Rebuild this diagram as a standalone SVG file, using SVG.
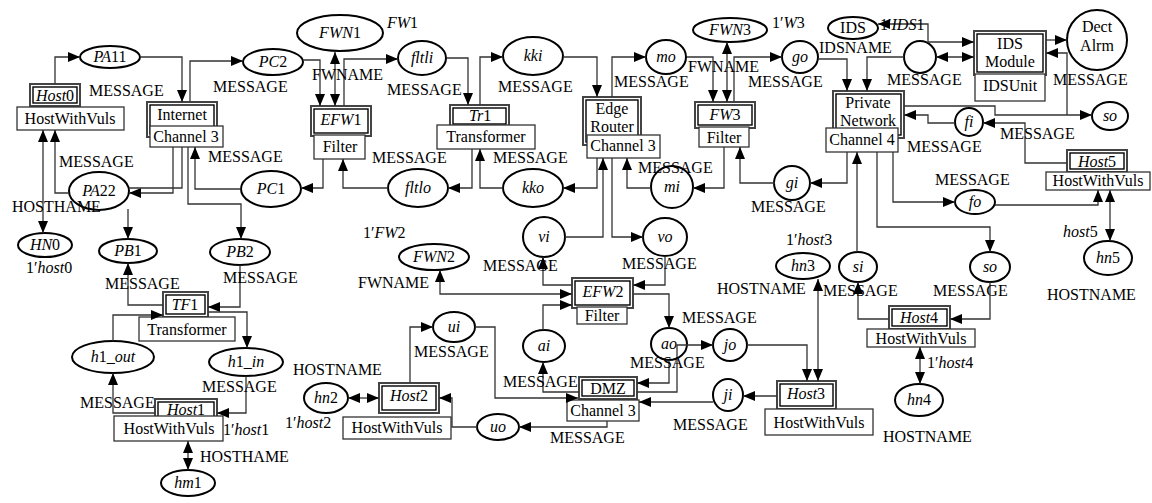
<svg xmlns="http://www.w3.org/2000/svg" width="1152" height="503" viewBox="0 0 1152 503">
<defs>
<marker id="a" viewBox="0 0 12 10" refX="12" refY="5" markerWidth="12" markerHeight="10" markerUnits="userSpaceOnUse" orient="auto-start-reverse"><path d="M0,0 L12,5 L0,10 z" fill="#000"/></marker>
<style>
text{font-family:"Liberation Serif","Times New Roman",serif;font-size:16px;fill:#000}
.m{text-anchor:middle}
.i{font-style:italic}
.p{fill:#fff;stroke:#000;stroke-width:2}
.o{fill:#fff;stroke:#444;stroke-width:2}
.n{fill:#fff;stroke:#000;stroke-width:1.4}
.s{fill:#fff;stroke:#333;stroke-width:1.3}
.c path{fill:none;stroke:#333;stroke-width:1.3}
.e{marker-end:url(#a)}
.b{marker-start:url(#a);marker-end:url(#a)}
</style>
</defs>
<rect width="1152" height="503" fill="#fff"/>

<!-- places -->
<g id="PA11"><ellipse class="p" cx="110" cy="57" rx="30" ry="11"/><text class="m" x="110" y="62"><tspan class="i">PA</tspan>11</text></g>
<g id="PC2"><ellipse class="p" cx="273" cy="62" rx="30" ry="13"/><text class="m" x="273" y="67"><tspan class="i">PC</tspan>2</text></g>
<g id="PA22"><ellipse class="p" cx="99" cy="191" rx="30" ry="19"/><text class="m" x="99" y="196"><tspan class="i">PA</tspan>22</text></g>
<g id="PC1"><ellipse class="p" cx="271" cy="189" rx="30" ry="18"/><text class="m" x="271" y="194"><tspan class="i">PC</tspan>1</text></g>
<g id="HN0"><ellipse class="p" cx="45" cy="245" rx="27" ry="12"/><text class="m" x="45" y="250"><tspan class="i">HN</tspan>0</text></g>
<g id="PB1"><ellipse class="p" cx="128" cy="251" rx="29" ry="12"/><text class="m" x="128" y="256"><tspan class="i">PB</tspan>1</text></g>
<g id="PB2"><ellipse class="p" cx="240" cy="252" rx="30" ry="13"/><text class="m" x="240" y="257"><tspan class="i">PB</tspan>2</text></g>
<g id="h1_out"><ellipse class="p" cx="113" cy="357" rx="41" ry="16"/><text class="m" x="113" y="362"><tspan class="i">h</tspan>1<tspan class="i">_out</tspan></text></g>
<g id="h1_in"><ellipse class="p" cx="246" cy="362" rx="37" ry="14"/><text class="m" x="246" y="367"><tspan class="i">h</tspan>1<tspan class="i">_in</tspan></text></g>
<g id="hm1"><ellipse class="p" cx="188" cy="483" rx="27" ry="13"/><text class="m" x="188" y="488"><tspan class="i">hm</tspan>1</text></g>
<g id="FWN1"><ellipse class="p" cx="340" cy="33" rx="43" ry="18"/><text class="m" x="340" y="38"><tspan class="i">FWN</tspan>1</text></g>
<g id="fltli"><ellipse class="p" cx="422" cy="58" rx="24" ry="17"/><text class="m i" x="422" y="63">fltli</text></g>
<g id="fltlo"><ellipse class="p" cx="418" cy="188" rx="30" ry="19"/><text class="m i" x="418" y="193">fltlo</text></g>
<g id="kki"><ellipse class="p" cx="533" cy="56" rx="30" ry="19"/><text class="m i" x="533" y="61">kki</text></g>
<g id="kko"><ellipse class="p" cx="533" cy="188" rx="30" ry="19"/><text class="m i" x="533" y="193">kko</text></g>
<g id="mo"><ellipse class="p" cx="666" cy="57" rx="20" ry="17"/><text class="m i" x="666" y="62">mo</text></g>
<g id="mi"><ellipse class="p" cx="672" cy="187" rx="21" ry="21"/><text class="m i" x="672" y="192">mi</text></g>
<g id="FWN3"><ellipse class="p" cx="730" cy="30" rx="37" ry="12"/><text class="m" x="730" y="35"><tspan class="i">FWN</tspan>3</text></g>
<g id="go"><ellipse class="p" cx="800" cy="57" rx="18" ry="16"/><text class="m i" x="800" y="62">go</text></g>
<g id="gi"><ellipse class="p" cx="792" cy="183" rx="18" ry="17"/><text class="m i" x="792" y="188">gi</text></g>
<g id="IDS"><ellipse class="p" cx="853" cy="28" rx="25" ry="11"/><text class="m" x="853" y="33">IDS</text></g>
<g id="idsmsg"><circle class="p" cx="920" cy="57" r="16"/></g>
<g id="DectAlrm"><circle class="p" cx="1097" cy="40" r="30"/><text class="m" x="1097" y="32">Dect</text><text class="m" x="1097" y="51">Alrm</text></g>
<g id="so1"><ellipse class="p" cx="1110" cy="116" rx="18" ry="14"/><text class="m i" x="1110" y="121">so</text></g>
<g id="fi"><circle class="p" cx="969" cy="122" r="14"/><text class="m i" x="969" y="127">fi</text></g>
<g id="fo"><ellipse class="p" cx="975" cy="202" rx="20" ry="12"/><text class="m i" x="975" y="207">fo</text></g>
<g id="hn5"><ellipse class="p" cx="1108" cy="258" rx="24" ry="17"/><text class="m" x="1108" y="263"><tspan class="i">hn</tspan>5</text></g>
<g id="vi"><ellipse class="p" cx="544" cy="237" rx="21" ry="20"/><text class="m i" x="544" y="242">vi</text></g>
<g id="vo"><ellipse class="p" cx="665" cy="237" rx="22" ry="19"/><text class="m i" x="665" y="242">vo</text></g>
<g id="FWN2"><ellipse class="p" cx="434" cy="257" rx="35" ry="13"/><text class="m" x="434" y="262"><tspan class="i">FWN</tspan>2</text></g>
<g id="ai"><ellipse class="p" cx="544" cy="346" rx="21" ry="16"/><text class="m i" x="544" y="351">ai</text></g>
<g id="ui"><ellipse class="p" cx="454" cy="327" rx="21" ry="15"/><text class="m i" x="454" y="332">ui</text></g>
<g id="hn2"><ellipse class="p" cx="326" cy="398" rx="22" ry="15"/><text class="m" x="326" y="403"><tspan class="i">hn</tspan>2</text></g>
<g id="uo"><ellipse class="p" cx="498" cy="427" rx="21" ry="13"/><text class="m i" x="498" y="432">uo</text></g>
<g id="ao"><ellipse class="p" cx="669" cy="344" rx="18" ry="16"/><text class="m i" x="669" y="349">ao</text></g>
<g id="jo"><ellipse class="p" cx="730" cy="345" rx="17" ry="16"/><text class="m i" x="730" y="350">jo</text></g>
<g id="ji"><ellipse class="p" cx="728" cy="395" rx="15" ry="16"/><text class="m i" x="728" y="400">ji</text></g>
<g id="hn3"><ellipse class="p" cx="803" cy="266" rx="27" ry="13"/><text class="m" x="803" y="271"><tspan class="i">hn</tspan>3</text></g>
<g id="si"><ellipse class="p" cx="858" cy="267" rx="19" ry="15"/><text class="m i" x="858" y="272">si</text></g>
<g id="so2"><ellipse class="p" cx="990" cy="267" rx="20" ry="15"/><text class="m i" x="990" y="272">so</text></g>
<g id="hn4"><ellipse class="p" cx="919" cy="400" rx="24" ry="16"/><text class="m" x="919" y="405"><tspan class="i">hn</tspan>4</text></g>

<!-- transitions -->
<g id="Host0"><rect class="o" x="30" y="84" width="50" height="22"/><rect class="n" x="33" y="87" width="44" height="16"/><text class="m" x="55" y="101"><tspan class="i">Host</tspan>0</text><rect class="s" x="17" y="107" width="107" height="23"/><text class="m" x="70" y="124">HostWithVuls</text></g>
<g id="Internet"><rect class="o" x="147" y="102" width="70" height="35"/><rect class="n" x="150" y="105" width="64" height="29"/><text class="m" x="182" y="120">Internet</text><rect class="s" x="150" y="126" width="73" height="21"/><text class="m" x="186" y="142">Channel 3</text></g>
<g id="EFW1"><rect class="o" x="311" y="106" width="60" height="30"/><rect class="n" x="314" y="109" width="54" height="24"/><text class="m" x="341" y="125"><tspan class="i">EFW</tspan>1</text><rect class="s" x="314" y="135" width="51" height="24"/><text class="m" x="340" y="152">Filter</text></g>
<g id="Tr1"><rect class="o" x="450" y="105" width="59" height="22"/><rect class="n" x="453" y="108" width="53" height="16"/><text class="m" x="480" y="121"><tspan class="i">Tr</tspan>1</text><rect class="s" x="437" y="125" width="98" height="24"/><text class="m" x="486" y="142">Transformer</text></g>
<g id="EdgeRouter"><rect class="o" x="583" y="97" width="58" height="48"/><rect class="n" x="586" y="100" width="52" height="42"/><text class="m" x="612" y="114">Edge</text><text class="m" x="612" y="132">Router</text><rect class="s" x="587" y="135" width="73" height="23"/><text class="m" x="623" y="151">Channel 3</text></g>
<g id="FW3"><rect class="o" x="695" y="102" width="60" height="26"/><rect class="n" x="698" y="105" width="54" height="20"/><text class="m" x="725" y="120"><tspan class="i">FW</tspan>3</text><rect class="s" x="699" y="127" width="50" height="20"/><text class="m" x="724" y="143">Filter</text></g>
<g id="PrivateNetwork"><rect class="o" x="833" y="91" width="71" height="47"/><rect class="n" x="836" y="94" width="65" height="41"/><text class="m" x="868" y="108">Private</text><text class="m" x="868" y="126">Network</text><rect class="s" x="826" y="128" width="72" height="24"/><text class="m" x="862" y="145">Channel 4</text></g>
<g id="IDSModule"><rect class="o" x="974" y="31" width="72" height="44"/><rect class="n" x="977" y="34" width="66" height="38"/><text class="m" x="1010" y="49">IDS</text><text class="m" x="1010" y="67">Module</text><rect class="s" x="975" y="74" width="70" height="27"/><text class="m" x="1010" y="91">IDSUnit</text></g>
<g id="Host5"><rect class="o" x="1067" y="150" width="60" height="22"/><rect class="n" x="1070" y="153" width="54" height="16"/><text class="m" x="1097" y="167"><tspan class="i">Host</tspan>5</text><rect class="s" x="1046" y="172" width="104" height="18"/><text class="m" x="1098" y="186">HostWithVuls</text></g>
<g id="TF1"><rect class="o" x="163" y="292" width="45" height="25"/><rect class="n" x="166" y="295" width="39" height="19"/><text class="m" x="185" y="310"><tspan class="i">TF</tspan>1</text><rect class="s" x="139" y="317" width="96" height="24"/><text class="m" x="187" y="335">Transformer</text></g>
<g id="Host1"><rect class="o" x="155" y="399" width="62" height="22"/><rect class="n" x="158" y="402" width="56" height="16"/><text class="m" x="186" y="415"><tspan class="i">Host</tspan>1</text><rect class="s" x="114" y="416" width="109" height="25"/><text class="m" x="169" y="434">HostWithVuls</text></g>
<g id="Host2"><rect class="o" x="379" y="383" width="60" height="30"/><rect class="n" x="382" y="386" width="54" height="24"/><text class="m" x="409" y="401"><tspan class="i">Host</tspan>2</text><rect class="s" x="343" y="417" width="108" height="22"/><text class="m" x="397" y="433">HostWithVuls</text></g>
<g id="EFW2"><rect class="o" x="572" y="278" width="61" height="30"/><rect class="n" x="575" y="281" width="55" height="24"/><text class="m" x="603" y="297"><tspan class="i">EFW</tspan>2</text><rect class="s" x="577" y="307" width="50" height="17"/><text class="m" x="602" y="321">Filter</text></g>
<g id="DMZ"><rect class="o" x="579" y="377" width="58" height="22"/><rect class="n" x="582" y="380" width="52" height="16"/><text class="m" x="608" y="394">DMZ</text><rect class="s" x="567" y="400" width="72" height="21"/><text class="m" x="603" y="416">Channel 3</text></g>
<g id="Host3"><rect class="o" x="777" y="381" width="59" height="28"/><rect class="n" x="780" y="384" width="53" height="22"/><text class="m" x="806" y="399"><tspan class="i">Host</tspan>3</text><rect class="s" x="765" y="409" width="108" height="26"/><text class="m" x="819" y="428">HostWithVuls</text></g>
<g id="Host4"><rect class="o" x="889" y="306" width="61" height="23"/><rect class="n" x="892" y="309" width="55" height="17"/><text class="m" x="919" y="323"><tspan class="i">Host</tspan>4</text><rect class="s" x="867" y="329" width="108" height="18"/><text class="m" x="921" y="344">HostWithVuls</text></g>

<!-- connectors -->
<g id="connectors" class="c">
<path class="e" d="M55,84 V57 H80"/>
<path class="e" d="M140,57 H182 V102"/>
<path class="e" d="M190,102 V61 H243"/>
<path class="e" d="M303,60 H320 V106"/>
<path class="b" d="M335,52 V106"/>
<path class="e" d="M344,106 V59 H398"/>
<path class="e" d="M447,58 H468 V105"/>
<path class="e" d="M480,105 V57 H503"/>
<path class="e" d="M563,57 H597 V97"/>
<path class="e" d="M612,97 V57 H646"/>
<path class="e" d="M687,57 H713 V102"/>
<path class="b" d="M727,42 V102"/>
<path class="e" d="M734,102 V57 H782"/>
<path class="e" d="M818,59 H847 V91"/>
<path class="b" d="M878,24 H928 V42 H974"/>
<path class="b" d="M936,57 H974"/>
<path class="e" d="M904,57 H867 V91"/>
<path class="e" d="M1046,40 H1067"/>
<path class="e" d="M904,106 H995 V115 H1092"/>
<path class="e" d="M1067,115 V53 H1046"/>
<path class="e" d="M955,123 H928 V115 H904"/>
<path class="e" d="M1067,163 H1025 V123 H983"/>
<path class="e" d="M893,152 V202 H955"/>
<path class="e" d="M995,205 H1098 V190"/>
<path class="b" d="M1110,190 V241"/>
<path class="e" d="M847,152 V183 H810"/>
<path class="e" d="M775,183 H740 V147"/>
<path class="e" d="M724,147 V188 H693"/>
<path class="e" d="M651,188 H627 V158"/>
<path class="e" d="M597,158 V188 H563"/>
<path class="e" d="M503,188 H480 V149"/>
<path class="e" d="M472,149 V188 H448"/>
<path class="e" d="M388,188 H343 V159"/>
<path class="e" d="M323,159 V188 H301"/>
<path class="e" d="M241,189 H195 V147"/>
<path class="e" d="M173,147 V193 H129"/>
<path d="M182,147 V188 H129"/>
<path class="e" d="M188,147 V204 H241 V239"/>
<path class="e" d="M69,193 H55 V130"/>
<path class="b" d="M43,130 V233"/>
<path class="e" d="M128,209 V239"/>
<path class="e" d="M163,305 H128 V263"/>
<path class="e" d="M240,265 V307 H208"/>
<path class="e" d="M208,312 H247 V348"/>
<path class="e" d="M113,341 V315 H163"/>
<path class="e" d="M246,376 V413 H217"/>
<path class="e" d="M155,413 H113 V373"/>
<path class="b" d="M188,441 V470"/>
<path class="e" d="M410,383 V327 H433"/>
<path class="b" d="M348,398 H379"/>
<path class="e" d="M475,327 H495 V398 H578"/>
<path class="e" d="M607,421 V427 H519"/>
<path class="e" d="M477,427 H452 V398 H439"/>
<path class="e" d="M579,392 H543 V362"/>
<path class="e" d="M543,330 V305 H572"/>
<path class="b" d="M440,270 V294 H572"/>
<path class="e" d="M572,285 H543 V257"/>
<path class="e" d="M565,237 H603 V158"/>
<path class="e" d="M612,158 V237 H643"/>
<path class="e" d="M665,256 V285 H633"/>
<path class="e" d="M633,294 H669 V328"/>
<path class="e" d="M669,360 V383 H637"/>
<path class="e" d="M637,392 H677 V345 H713"/>
<path class="e" d="M747,345 H807 V381"/>
<path class="b" d="M818,279 V381"/>
<path class="e" d="M777,396 H743"/>
<path class="e" d="M713,402 H639"/>
<path class="e" d="M857,252 V152"/>
<path class="e" d="M889,319 H858 V282"/>
<path class="e" d="M877,152 V227 H990 V252"/>
<path class="e" d="M990,282 V319 H950"/>
<path class="b" d="M920,347 V384"/>
</g>

<!-- inscriptions -->
<g id="labels">
<text x="89" y="96">MESSAGE</text>
<text x="213" y="92">MESSAGE</text>
<text x="208" y="162">MESSAGE</text>
<text x="59" y="167">MESSAGE</text>
<text x="387" y="95">MESSAGE</text>
<text x="372" y="163">MESSAGE</text>
<text x="498" y="92">MESSAGE</text>
<text x="493" y="163">MESSAGE</text>
<text x="614" y="87">MESSAGE</text>
<text x="748" y="87">MESSAGE</text>
<text x="638" y="173">MESSAGE</text>
<text x="751" y="212">MESSAGE</text>
<text x="887" y="85">MESSAGE</text>
<text x="1053" y="85">MESSAGE</text>
<text x="1000" y="139">MESSAGE</text>
<text x="907" y="152">MESSAGE</text>
<text x="935" y="185">MESSAGE</text>
<text x="105" y="289">MESSAGE</text>
<text x="223" y="283">MESSAGE</text>
<text x="202" y="392">MESSAGE</text>
<text x="80" y="408">MESSAGE</text>
<text x="483" y="271">MESSAGE</text>
<text x="622" y="269">MESSAGE</text>
<text x="414" y="357">MESSAGE</text>
<text x="503" y="387">MESSAGE</text>
<text x="682" y="323">MESSAGE</text>
<text x="630" y="368">MESSAGE</text>
<text x="673" y="430">MESSAGE</text>
<text x="550" y="443">MESSAGE</text>
<text x="823" y="296">MESSAGE</text>
<text x="933" y="296">MESSAGE</text>
<text x="12" y="212">HOSTHAME</text>
<text x="200" y="462">HOSTHAME</text>
<text x="26" y="273">1′<tspan class="i">host</tspan>0</text>
<text x="223" y="435">1′<tspan class="i">host</tspan>1</text>
<text x="285" y="428">1′<tspan class="i">host</tspan>2</text>
<text x="786" y="245">1′<tspan class="i">host</tspan>3</text>
<text x="927" y="368">1′<tspan class="i">host</tspan>4</text>
<text x="1063" y="237"><tspan class="i">host</tspan>5</text>
<text x="387" y="28"><tspan class="i">FW</tspan>1</text>
<text x="363" y="238">1′<tspan class="i">FW</tspan>2</text>
<text x="772" y="28">1′<tspan class="i">W</tspan>3</text>
<text x="880" y="30">1′<tspan class="i">IDS</tspan>1</text>
<text x="312" y="80">FWNAME</text>
<text x="688" y="72">FWNAME</text>
<text x="358" y="288">FWNAME</text>
<text x="819" y="53">IDSNAME</text>
<text x="293" y="375">HOSTNAME</text>
<text x="717" y="294">HOSTNAME</text>
<text x="883" y="442">HOSTNAME</text>
<text x="1047" y="300">HOSTNAME</text>
</g>
</svg>
